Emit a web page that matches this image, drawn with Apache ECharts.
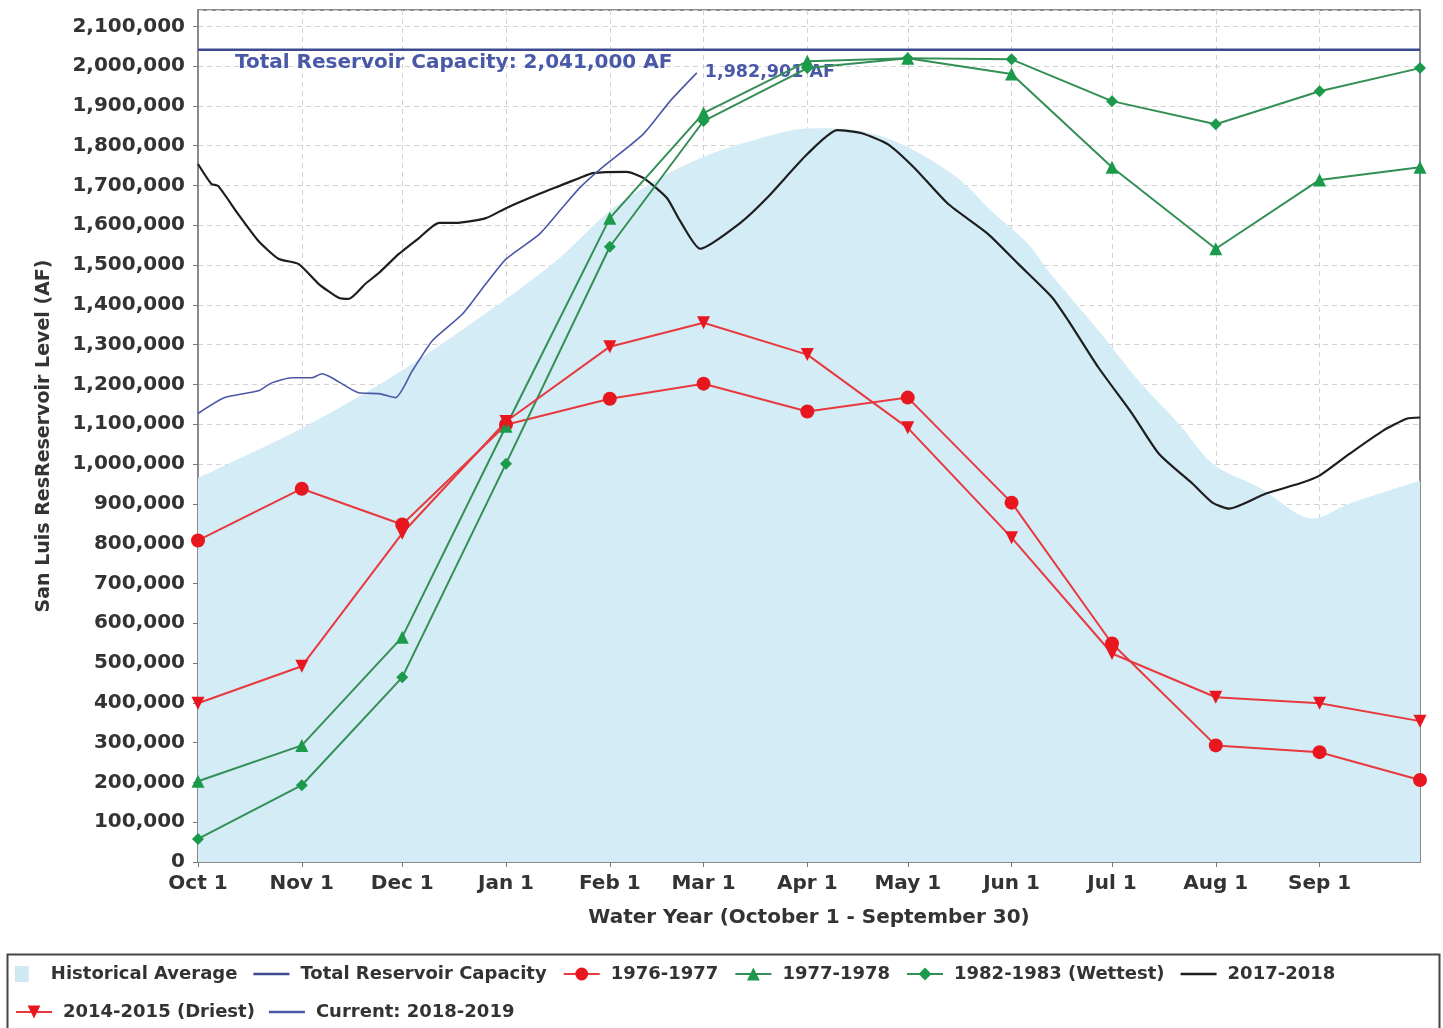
<!DOCTYPE html>
<html>
<head>
<meta charset="utf-8">
<title>San Luis Reservoir Level</title>
<script src="https://cdn.jsdelivr.net/npm/echarts@6.0.0/dist/echarts.min.js"></script>
<style>
  html, body { margin: 0; padding: 0; background: #fff; }
  #main { width: 1443px; height: 1028px; }
</style>
</head>
<body>
<div id="main"></div>
<script>
// day offsets counted from Oct 1
const monthDays = [0, 31, 61, 92, 123, 151, 182, 212, 243, 273, 304, 335];
const monthLabels = ["Oct 1", "Nov 1", "Dec 1", "Jan 1", "Feb 1", "Mar 1", "Apr 1", "May 1", "Jun 1", "Jul 1", "Aug 1", "Sep 1"];
const yearEnd = 365;

const capacity = 2041000;

// monthly readings (first of each month + end of water year)
const pointDays = [0, 31, 61, 92, 123, 151, 182, 212, 243, 273, 304, 335, 365];
const wy1977 = [808000, 938000, 848000, 1099000, 1164000, 1202000, 1132000, 1167000, 903000, 549000, 293000, 276000, 206000];
const wy1978 = [203000, 293000, 565000, 1095000, 1618000, 1882000, 2012000, 2020000, 1980000, 1746000, 1541000, 1714000, 1746000];
const wy1983 = [58000, 193000, 464000, 1001000, 1546000, 1862000, 1995000, 2020000, 2017000, 1912000, 1854000, 1937000, 1995000];
const wy2015 = [399000, 492000, 826000, 1107000, 1295000, 1355000, 1275000, 1091000, 815000, 524000, 414000, 399000, 354000];

// historical average
const avgDays = [0, 31, 59, 92, 108, 123, 138, 153, 168, 180, 188, 198, 208, 218, 228, 237, 248, 254, 269, 281, 293, 303, 317, 333, 344, 365];
const avgLevels = [965000, 1090000, 1225000, 1415000, 1518000, 1636000, 1719000, 1779000, 1819000, 1842000, 1844000, 1837000, 1812000, 1769000, 1711000, 1636000, 1553000, 1485000, 1335000, 1209000, 1101000, 1001000, 941000, 863000, 901000, 958000];

// 2017-2018
const wy2018Days = [0, 4, 6, 12, 18, 24, 30, 36, 42, 45, 50, 54, 60, 66, 72, 77, 86, 92, 102, 108, 114, 118, 128, 133, 140, 144, 150, 162, 170, 182, 191, 198, 206, 214, 224, 236, 245, 255, 260, 269, 279, 287, 297, 303, 308, 319, 329, 335, 344, 354, 361, 365];
const wy2018Levels = [1754000, 1704000, 1699000, 1628000, 1561000, 1516000, 1503000, 1453000, 1418000, 1415000, 1453000, 1480000, 1528000, 1568000, 1606000, 1606000, 1618000, 1643000, 1679000, 1699000, 1719000, 1731000, 1734000, 1719000, 1669000, 1611000, 1541000, 1606000, 1669000, 1779000, 1839000, 1832000, 1804000, 1744000, 1654000, 1578000, 1503000, 1420000, 1360000, 1242000, 1127000, 1026000, 951000, 903000, 888000, 926000, 951000, 971000, 1026000, 1084000, 1114000, 1117000];

// current: 2018-2019
const curDays = [0, 8, 18, 22, 28, 34, 37, 40, 48, 54, 59, 64, 70, 79, 86, 92, 102, 108, 114, 120, 133, 141, 149];
const curLevels = [1127000, 1167000, 1184000, 1204000, 1217000, 1217000, 1227000, 1217000, 1179000, 1177000, 1167000, 1234000, 1310000, 1377000, 1453000, 1515000, 1578000, 1636000, 1694000, 1740000, 1829000, 1912000, 1982901];

const pts = (xs, ys) => xs.map((x, i) => [x, ys[i]]);
const fmt = v => Math.round(v).toLocaleString("en-US");

const FONT = "DejaVu Sans";
const RED_LINE = "#e8393f", RED_MARK = "#e8161f";
const GREEN_LINE = "#338f55", GREEN_MARK = "#1b9a4b";
const LINE_ICON = "path://M0,0H36V2.4H0Z";

const markerSeries = (name, data, symbol, lineColor, markColor, size, rotate) => ({
  name: name,
  type: "line",
  data: pts(pointDays, data),
  symbol: symbol,
  symbolSize: size,
  symbolRotate: rotate || 0,
  lineStyle: { color: lineColor, width: 2 },
  itemStyle: { color: markColor },
  z: 4
});

const legendText = { fontFamily: FONT, fontSize: 18, fontWeight: "bold", color: "#333", padding: [0, 0, 0, 6] };

const chart = echarts.init(document.getElementById("main"));

const option = {
  animation: false,
  backgroundColor: "#fff",
  title: {
    text: "Total Reservoir Capacity: " + fmt(capacity) + " AF",
    left: 235,
    top: 53,
    padding: 0,
    textStyle: { fontFamily: FONT, fontSize: 20, fontWeight: "bold", color: "#4a58a8" }
  },
  grid: {
    left: 198,
    right: 23,
    top: 10,
    bottom: 166,
    show: true,
    borderColor: "#8a8a8a",
    borderWidth: 2
  },
  xAxis: {
    type: "value",
    min: 0,
    max: yearEnd,
    name: "Water Year (October 1 - September 30)",
    nameLocation: "middle",
    nameGap: 46,
    nameTextStyle: { fontFamily: FONT, fontSize: 20, fontWeight: "bold", color: "#333" },
    axisLine: { lineStyle: { color: "#8a8a8a", width: 2 } },
    axisTick: { customValues: monthDays, length: 5, lineStyle: { color: "#777" } },
    axisLabel: {
      customValues: monthDays,
      formatter: v => monthLabels[monthDays.indexOf(v)] || "",
      fontFamily: FONT,
      fontSize: 20,
      fontWeight: "bold",
      color: "#333",
      margin: 12
    },
    splitLine: { show: true, lineStyle: { color: "#d2d2d2", type: [5, 4] } }
  },
  yAxis: {
    type: "value",
    min: 0,
    max: capacity + 100000,
    interval: 100000,
    name: "San Luis ResReservoir Level (AF)",
    nameLocation: "middle",
    nameGap: 144,
    nameTextStyle: { fontFamily: FONT, fontSize: 19, fontWeight: "bold", color: "#333" },
    axisLine: { show: true, lineStyle: { color: "#8a8a8a", width: 2 } },
    axisTick: { show: true, length: 5, lineStyle: { color: "#777" } },
    axisLabel: {
      formatter: v => fmt(v),
      showMaxLabel: false,
      fontFamily: FONT,
      fontSize: 20,
      fontWeight: "bold",
      color: "#333",
      margin: 13
    },
    splitLine: { show: true, lineStyle: { color: "#d2d2d2", type: [5, 4] } }
  },
  legend: [
    {
      data: [
        { name: "Historical Average", icon: "path://M0,0H12V14H0Z", itemStyle: { color: "#cfe9f3" } },
        { name: "Total Reservoir Capacity", icon: LINE_ICON },
        "1976-1977", "1977-1978", "1982-1983 (Wettest)",
        { name: "2017-2018", icon: LINE_ICON }
      ],
      left: 10,
      top: 960,
      itemWidth: 36,
      itemHeight: 16,
      itemGap: 16,
      textStyle: legendText
    },
    {
      data: ["2014-2015 (Driest)", { name: "Current: 2018-2019", icon: LINE_ICON }],
      left: 10,
      top: 998,
      itemWidth: 36,
      itemHeight: 16,
      itemGap: 14,
      textStyle: legendText
    }
  ],
  graphic: [
    {
      type: "rect",
      left: 5,
      top: 952,
      shape: { width: 1432, height: 90 },
      style: { fill: "none", stroke: "#444", lineWidth: 2 },
      silent: true
    }
  ],
  series: [
    {
      name: "Historical Average",
      type: "line",
      data: pts(avgDays, avgLevels),
      symbol: "none",
      smooth: 0.3,
      lineStyle: { width: 0 },
      itemStyle: { color: "#cfe9f3" },
      areaStyle: { color: "#d3ecf5", opacity: 1 },
      z: 1
    },
    {
      name: "Total Reservoir Capacity",
      type: "line",
      data: [[0, capacity], [yearEnd, capacity]],
      symbol: "none",
      lineStyle: { color: "#3d4a8f", width: 2.5 },
      itemStyle: { color: "#3d4a8f" },
      z: 3
    },
    markerSeries("1976-1977", wy1977, "circle", RED_LINE, RED_MARK, 14),
    markerSeries("1977-1978", wy1978, "triangle", GREEN_LINE, GREEN_MARK, 13),
    markerSeries("1982-1983 (Wettest)", wy1983, "diamond", GREEN_LINE, GREEN_MARK, 12),
    {
      name: "2017-2018",
      type: "line",
      data: pts(wy2018Days, wy2018Levels),
      symbol: "none",
      smooth: 0.2,
      lineStyle: { color: "#1e1e1e", width: 2.2 },
      itemStyle: { color: "#1e1e1e" },
      z: 3
    },
    markerSeries("2014-2015 (Driest)", wy2015, "triangle", RED_LINE, RED_MARK, 13, 180),
    {
      name: "Current: 2018-2019",
      type: "line",
      data: pts(curDays, curLevels),
      symbol: "none",
      smooth: 0.2,
      lineStyle: { color: "#4b58a6", width: 1.6 },
      itemStyle: { color: "#4b58a6" },
      endLabel: {
        show: true,
        formatter: p => fmt(p.value[1]) + " AF",
        distance: 8,
        fontFamily: FONT,
        fontSize: 17.5,
        fontWeight: "bold",
        color: "#4a58a8"
      },
      z: 3
    }
  ]
};

chart.setOption(option);
</script>
</body>
</html>
